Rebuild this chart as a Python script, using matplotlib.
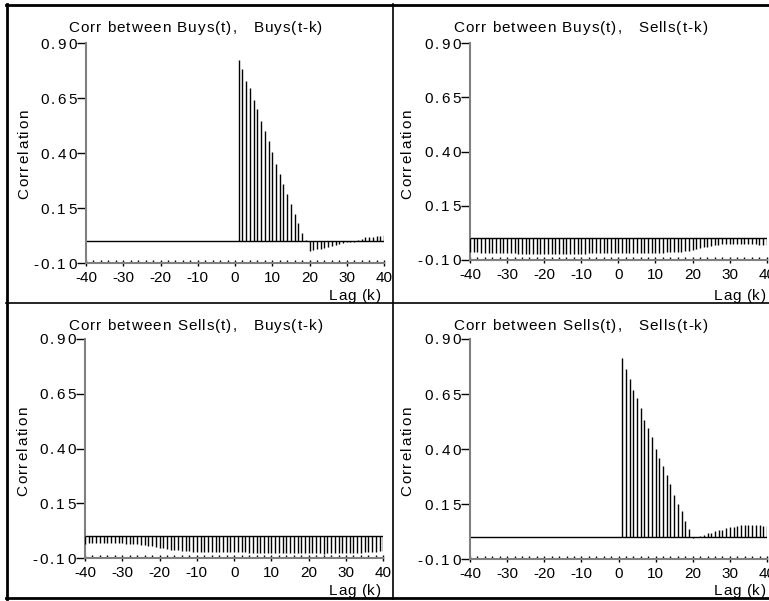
import matplotlib
matplotlib.use("Agg")
import matplotlib.pyplot as plt
from matplotlib.lines import Line2D
from matplotlib.font_manager import FontProperties
from matplotlib.textpath import TextToPath
from matplotlib.transforms import IdentityTransform
import numpy as np

plt.rcParams['font.family'] = ['Liberation Sans', 'DejaVu Sans']

# ---------------- data ----------------
lags_pos = list(range(1, 41))
lags_all = list(range(-40, 41))

buys_buys = [0.823, 0.783, 0.730, 0.695, 0.644, 0.600, 0.545, 0.500, 0.455, 0.405,
             0.353, 0.306, 0.261, 0.217, 0.171, 0.126, 0.085, 0.039, 0.005, -0.042,
             -0.039, -0.036, -0.033, -0.030, -0.027, -0.021, -0.015, -0.011, -0.008, -0.005,
             -0.003, -0.001, 0.005, 0.012, 0.018, 0.020, 0.021, 0.023, 0.024, 0.027]

sells_sells = [0.814, 0.762, 0.720, 0.670, 0.632, 0.585, 0.534, 0.496, 0.455, 0.402,
               0.360, 0.322, 0.281, 0.241, 0.194, 0.151, 0.121, 0.076, 0.038, -0.005,
               0.000, 0.005, 0.012, 0.018, 0.021, 0.029, 0.035, 0.035, 0.041, 0.047,
               0.047, 0.050, 0.054, 0.057, 0.057, 0.056, 0.057, 0.056, 0.053, 0.050]

buys_sells = [-0.062, -0.064, -0.065, -0.066, -0.066, -0.067, -0.067, -0.068, -0.068, -0.069,
              -0.069, -0.070, -0.070, -0.071, -0.071, -0.072, -0.072, -0.072, -0.073, -0.073,
              -0.073, -0.073, -0.073, -0.073, -0.072, -0.072, -0.072, -0.072, -0.071, -0.071,
              -0.071, -0.071, -0.070, -0.070, -0.070, -0.070, -0.070, -0.069, -0.069, -0.069,
              -0.069, -0.069, -0.068, -0.068, -0.068, -0.068, -0.068, -0.067, -0.067, -0.067,
              -0.066, -0.066, -0.066, -0.065, -0.065, -0.064, -0.063, -0.062, -0.060, -0.058,
              -0.054, -0.050, -0.046, -0.042, -0.038, -0.035, -0.032, -0.030, -0.028, -0.027,
              -0.026, -0.025, -0.025, -0.025, -0.025, -0.026, -0.027, -0.028, -0.029, -0.030,
              -0.031]

sells_buys = [-0.037, -0.031, -0.031, -0.030, -0.030, -0.030, -0.031, -0.031, -0.031, -0.032,
              -0.032, -0.033, -0.034, -0.035, -0.036, -0.038, -0.040, -0.042, -0.045, -0.048,
              -0.051, -0.054, -0.057, -0.060, -0.062, -0.064, -0.066, -0.067, -0.068, -0.069,
              -0.070, -0.071, -0.071, -0.072, -0.072, -0.072, -0.073, -0.073, -0.072, -0.072,
              -0.072, -0.073, -0.073, -0.073, -0.074, -0.074, -0.074, -0.074, -0.075, -0.075,
              -0.075, -0.075, -0.076, -0.076, -0.076, -0.076, -0.077, -0.077, -0.077, -0.077,
              -0.077, -0.077, -0.078, -0.078, -0.079, -0.078, -0.078, -0.078, -0.077, -0.077,
              -0.076, -0.076, -0.075, -0.075, -0.074, -0.073, -0.071, -0.070, -0.069, -0.068,
              -0.066]

titles = ["Corr between Buys(t),   Buys(t-k)",
          "Corr between Buys(t),   Sells(t-k)",
          "Corr between Sells(t),   Buys(t-k)",
          "Corr between Sells(t),   Sells(t-k)"]
yticks = [-0.10, 0.15, 0.40, 0.65, 0.90]
ytick_labels = ["-0.10", "0.15", "0.40", "0.65", "0.90"]
xticks = [-40, -30, -20, -10, 0, 10, 20, 30, 40]
xtick_labels = ["-40", "-30", "-20", "-10", "0", "10", "20", "30", "40"]

# ---------------- layout (pixels) ----------------
W, H = 769, 601
DPI = 100
fig = plt.figure(figsize=(W / DPI, H / DPI), dpi=DPI)

_ttp = TextToPath()


def _width_px(s, fp):
    w1, _, _ = _ttp.get_text_width_height_descent('|' + s + '|', fp, ismath=False)
    w0, _, _ = _ttp.get_text_width_height_descent('||', fp, ismath=False)
    return (w1 - w0) * DPI / 72.0


def spaced(x, y, s, size=11, sp=1.0, ha='left', rotation=0):
    """Letter-spaced text; x, y = anchor in pixels from top-left; y is the vertical
    centre of the capitals (or horizontal centre for rotated text)."""
    fp = FontProperties(family='Liberation Sans', size=size)
    size_px = size * DPI / 72.0
    cap = 0.716 * size_px
    total = _width_px(s, fp) + (len(s) - 1) * sp
    if ha == 'right':
        start = -total
    elif ha == 'center':
        start = -total / 2
    else:
        start = 0.0
    for i, ch in enumerate(s):
        if ch == ' ':
            continue
        off = start + _width_px(s[:i], fp) + i * sp
        if rotation == 90:
            dx = x + cap / 2
            dy = (H - y) + off
        else:
            dx = x + off
            dy = (H - y) - cap / 2
        fig.text(dx, dy, ch, fontproperties=fp, ha='left', va='baseline',
                 rotation=rotation, rotation_mode='anchor',
                 transform=IdentityTransform())


def px_rect(x0, x1, y0, y1):
    return [x0 / W, 1 - y1 / H, (x1 - x0) / W, (y1 - y0) / H]


panels = [
    dict(rect=px_rect(86, 384, 43.3, 263.3), x=lags_pos, y=buys_buys,
         title_xy=(68, 27), ylab_xy=(23, 154), xlab_xy=(381, 295)),
    dict(rect=px_rect(470, 766.7, 43.3, 260), x=lags_all, y=buys_sells,
         title_xy=(453, 27), ylab_xy=(406, 154), xlab_xy=(766, 295)),
    dict(rect=px_rect(85, 383.3, 339, 558.3), x=lags_all, y=sells_buys,
         title_xy=(68, 325), ylab_xy=(22, 451), xlab_xy=(381, 590)),
    dict(rect=px_rect(470, 767, 339, 559.3), x=lags_pos, y=sells_sells,
         title_xy=(453, 325), ylab_xy=(406, 451), xlab_xy=(766, 590)),
]

spine_col = '#808080'
fs = 11

for p, title in zip(panels, titles):
    ax = fig.add_axes(p['rect'])
    ax.set_xlim(-40, 40)
    ax.set_ylim(-0.10, 0.90)
    ax.axhline(0, color='black', lw=1.0, zorder=2)
    ax.vlines(p['x'], 0, p['y'], colors='black', lw=1.0, zorder=3)
    for s in ['top', 'right']:
        ax.spines[s].set_visible(False)
    for s in ['left', 'bottom']:
        ax.spines[s].set_color(spine_col)
        ax.spines[s].set_linewidth(1.5)
    ax.set_yticks(yticks)
    ax.set_yticklabels([])
    ax.set_xticks(xticks)
    ax.set_xticklabels(xtick_labels, fontsize=fs)
    ax.set_xticks(np.arange(-40, 41, 2), minor=True)
    ax.tick_params(axis='y', direction='out', length=6.5, width=1, pad=1, color='black')
    ax.tick_params(axis='x', which='major', direction='inout', length=5, width=1, pad=3, color='black')
    ax.tick_params(axis='x', which='minor', direction='in', length=2.5, width=1, color='black')
    ax.patch.set_alpha(0)

    # y tick labels (letter-spaced), positioned via the axes data transform
    for v, lab in zip(yticks, ytick_labels):
        xd, yd = ax.transData.transform((-40, v))
        spaced(xd - 9.5, H - yd, lab, size=fs, sp=2.2, ha='right')

    spaced(p['title_xy'][0], p['title_xy'][1], title, size=fs, sp=1.0, ha='left')
    spaced(p['ylab_xy'][0], p['ylab_xy'][1], "Correlation", size=fs, sp=1.5,
           ha='center', rotation=90)
    spaced(p['xlab_xy'][0], p['xlab_xy'][1], "Lag (k)", size=fs, sp=0.8, ha='right')


# frame lines
def hline(y, x0, x1, lw):
    fig.add_artist(Line2D([x0 / W, x1 / W], [1 - y / H, 1 - y / H], color='black', lw=lw))


def vline(x, y0, y1, lw):
    fig.add_artist(Line2D([x / W, x / W], [1 - y0 / H, 1 - y1 / H], color='black', lw=lw))


hline(5, 6, W, 2.0)
hline(598, 6, W, 2.0)
hline(303, 6, W, 1.2)
vline(7, 4, 599, 2.0)
vline(393, 4, 599, 1.2)

fig.savefig("out.png", dpi=DPI)
